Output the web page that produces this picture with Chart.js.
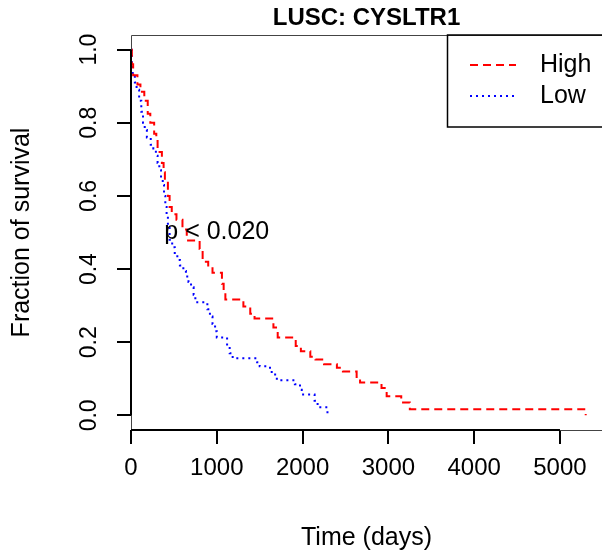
<!DOCTYPE html>
<html>
<head>
<meta charset="utf-8">
<script src="https://cdn.jsdelivr.net/npm/chart.js@4/dist/chart.umd.min.js"></script>
<style>
html,body{margin:0;padding:0;background:#fff;}
canvas{display:block;}
</style>
</head>
<body>
<canvas id="c" width="602" height="556"></canvas>
<script>
// ---- data ----
const chartTitle = "LUSC: CYSLTR1";
const seriesLabels = ["High", "Low"];
const highTimes = [0, 10, 25, 75, 110, 155, 195, 225, 270, 295, 310, 360, 380, 395, 430, 450, 475, 530, 600, 650, 800, 835, 900, 950, 1060, 1080, 1100, 1310, 1390, 1440, 1660, 1710, 1920, 1980, 2090, 2150, 2250, 2400, 2470, 2630, 2670, 2920, 2980, 3150, 3250, 5300];
const highSurv  = [1.0, 0.96, 0.93, 0.905, 0.885, 0.86, 0.825, 0.80, 0.77, 0.75, 0.72, 0.69, 0.665, 0.636, 0.60, 0.57, 0.55, 0.535, 0.508, 0.478, 0.455, 0.42, 0.41, 0.39, 0.36, 0.335, 0.317, 0.298, 0.278, 0.265, 0.24, 0.213, 0.19, 0.175, 0.16, 0.153, 0.14, 0.13, 0.12, 0.105, 0.09, 0.075, 0.052, 0.035, 0.0164, 0.0];
const lowTimes  = [0, 8, 20, 45, 65, 95, 120, 140, 160, 185, 230, 260, 290, 310, 330, 350, 370, 385, 400, 415, 430, 450, 480, 510, 540, 570, 610, 640, 670, 700, 730, 750, 890, 920, 950, 980, 1000, 1120, 1150, 1185, 1470, 1500, 1620, 1640, 1680, 1700, 1910, 1970, 1990, 2140, 2175, 2290];
const lowSurv   = [1.0, 0.96, 0.93, 0.91, 0.89, 0.86, 0.83, 0.80, 0.78, 0.76, 0.74, 0.73, 0.71, 0.69, 0.67, 0.65, 0.63, 0.60, 0.57, 0.545, 0.515, 0.48, 0.46, 0.44, 0.425, 0.41, 0.395, 0.38, 0.365, 0.35, 0.33, 0.309, 0.29, 0.27, 0.25, 0.23, 0.213, 0.19, 0.17, 0.156, 0.145, 0.134, 0.125, 0.115, 0.105, 0.096, 0.085, 0.07, 0.057, 0.04, 0.022, 0.0];
const xTicks = [0, 1000, 2000, 3000, 4000, 5000];
const yTicks = [0.0, 0.2, 0.4, 0.6, 0.8, 1.0];
const pText = "p < 0.020";
const pPos = {x: 1000, y: 0.5};
const xTitle = "Time (days)";
const yTitle = "Fraction of survival";

const FONT = "'Liberation Sans', Arial, Helvetica, sans-serif";

function pts(t, s) { return t.map((v, i) => ({x: v, y: s[i]})); }

const decor = {
  id: 'decor',
  afterDraw(chart) {
    const {ctx, chartArea: a, scales: {x, y}} = chart;
    ctx.save();
    // plot box (thin)
    ctx.strokeStyle = '#444';
    ctx.lineWidth = 1;
    ctx.setLineDash([]);
    ctx.beginPath();
    ctx.moveTo(a.right + 5, a.bottom + 0.5);
    ctx.lineTo(a.left + 0.5, a.bottom + 0.5);
    ctx.lineTo(a.left + 0.5, a.top + 0.5);
    ctx.lineTo(a.right + 5, a.top + 0.5);
    ctx.stroke();
    // axis lines (thick, tick range)
    ctx.strokeStyle = '#000';
    ctx.lineWidth = 2;
    ctx.beginPath();
    ctx.moveTo(x.getPixelForValue(xTicks[0]), a.bottom);
    ctx.lineTo(x.getPixelForValue(xTicks[xTicks.length - 1]), a.bottom);
    ctx.moveTo(a.left, y.getPixelForValue(yTicks[0]));
    ctx.lineTo(a.left, y.getPixelForValue(yTicks[yTicks.length - 1]));
    ctx.stroke();
    // y tick labels (rotated like R)
    ctx.fillStyle = '#000';
    ctx.font = "23px " + FONT;
    ctx.textAlign = 'center';
    ctx.textBaseline = 'middle';
    y.ticks.forEach(t => {
      ctx.save();
      ctx.translate(90, y.getPixelForValue(t.value));
      ctx.rotate(-Math.PI / 2);
      ctx.fillText(t.value.toFixed(1), 0, 0);
      ctx.restore();
    });
    // title
    ctx.font = "bold 24px " + FONT;
    ctx.fillText(chartTitle, (a.left + a.right) / 2, 18);
    // p value
    ctx.font = "25px " + FONT;
    ctx.fillText(pText, x.getPixelForValue(pPos.x), y.getPixelForValue(pPos.y));
    // legend
    const lx = 447.5, ly = a.top, lh = 92;
    ctx.strokeStyle = '#000';
    ctx.lineWidth = 1.5;
    ctx.strokeRect(lx, ly, 200, lh);
    chart.data.datasets.forEach((ds, i) => {
      const yy = ly + 30 + i * 31;
      ctx.strokeStyle = ds.borderColor;
      ctx.lineWidth = ds.borderWidth;
      ctx.setLineDash(ds.borderDash);
      ctx.beginPath();
      ctx.moveTo(470, yy);
      ctx.lineTo(516, yy);
      ctx.stroke();
      ctx.setLineDash([]);
      ctx.fillStyle = '#000';
      ctx.textAlign = 'left';
      ctx.font = "25px " + FONT;
      ctx.fillText(ds.label, 540, yy);
    });
    ctx.restore();
  }
};

new Chart(document.getElementById('c'), {
  type: 'line',
  data: {
    datasets: [
      {label: seriesLabels[0], data: pts(highTimes, highSurv), borderColor: '#ff0000', borderWidth: 2,
       borderDash: [8, 5], stepped: 'before', pointRadius: 0, fill: false},
      {label: seriesLabels[1], data: pts(lowTimes, lowSurv), borderColor: '#0000ff', borderWidth: 2,
       borderDash: [2, 4], stepped: 'before', pointRadius: 0, fill: false}
    ]
  },
  options: {
    responsive: false,
    animation: false,
    devicePixelRatio: 1,
    layout: {padding: {top: 35, left: 0, right: 0, bottom: 0}},
    plugins: {legend: {display: false}, tooltip: {enabled: false}, title: {display: false}},
    scales: {
      x: {
        type: 'linear', min: 0, max: 5490, position: 'bottom',
        afterBuildTicks: s => { s.ticks = xTicks.map(v => ({value: v})); },
        afterFit: s => { s.height = 126; },
        grid: {drawOnChartArea: false, drawTicks: true, tickLength: 14, color: '#000', lineWidth: 2},
        border: {display: false},
        ticks: {color: '#000', font: {size: 24, family: FONT}, padding: 10, maxRotation: 0, autoSkip: false,
                callback: v => String(v)},
        title: {display: true, text: xTitle, color: '#000', font: {size: 25, family: FONT}, padding: {top: 0, bottom: 3}}
      },
      y: {
        type: 'linear', min: -0.04, max: 1.04, position: 'left',
        afterBuildTicks: s => { s.ticks = yTicks.map(v => ({value: v})); },
        afterFit: s => { s.width = 131; },
        grid: {drawOnChartArea: false, drawTicks: true, tickLength: 14, color: '#000', lineWidth: 2},
        border: {display: false},
        ticks: {display: false},
        title: {display: true, text: yTitle, color: '#000', font: {size: 25, family: FONT}, padding: {top: 7, bottom: 0}}
      }
    }
  },
  plugins: [decor]
});
</script>
</body>
</html>
